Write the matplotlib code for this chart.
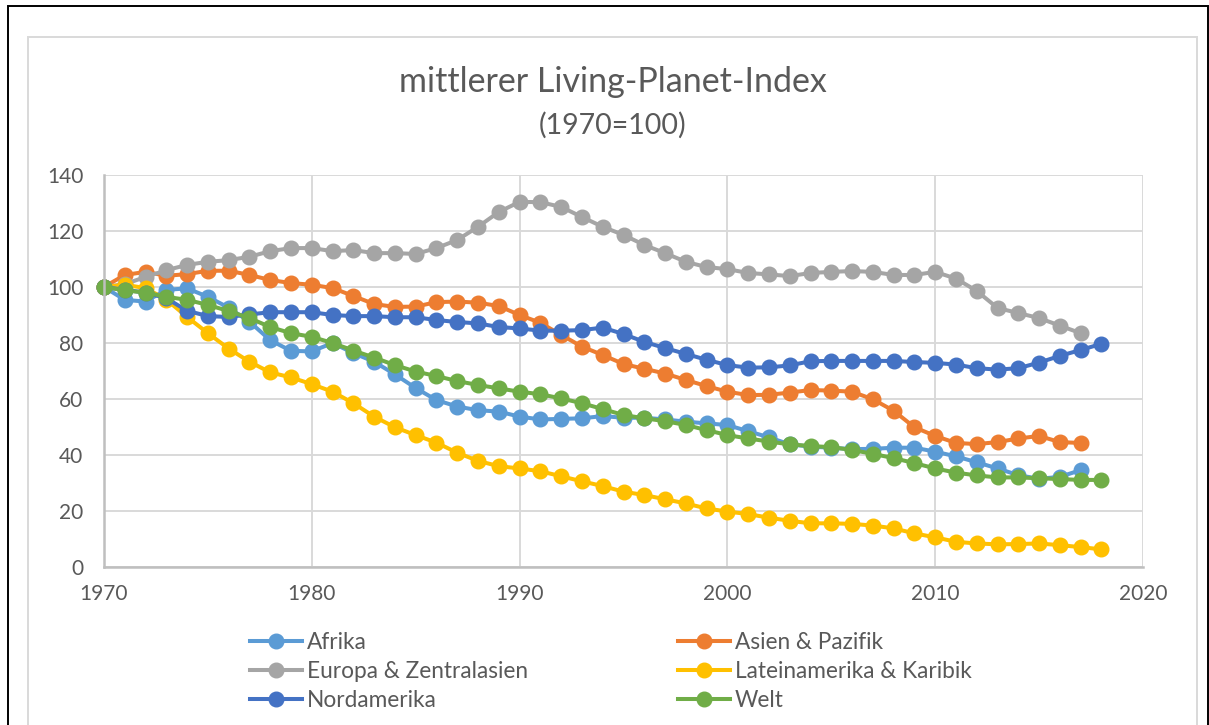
"""Mittlerer Living-Planet-Index nach Region, 1970 = 100."""

import matplotlib.pyplot as plt
from matplotlib.lines import Line2D
from matplotlib.patches import Rectangle

plt.rcParams["font.family"] = ["Lato", "DejaVu Sans"]

YEARS = list(range(1970, 2019))

afrika = [100, 95.4, 94.8, 99, 99.5, 96.5, 92.6, 87.6, 81, 77.2,
          77, 80, 76.4, 73.3, 68.8, 63.9, 59.6, 57.3, 56, 55.5,
          53.7, 52.7, 52.9, 53.1, 53.9, 53.3, 53.3, 52.7, 51.9, 51.3,
          50.7, 48.5, 46.3, 43.8, 43, 42.6, 42.1, 42.2, 42.6, 42.6,
          41.2, 39.5, 37.4, 35.2, 32.8, 31.5, 32.2, 34.6]
asien = [100, 104.3, 105.4, 104, 104.6, 105.8, 105.8, 104.3, 102.5, 101.4,
         100.8, 99.6, 96.8, 93.9, 92.9, 93, 94.6, 94.8, 94.4, 93.2,
         90, 87.2, 82.9, 78.7, 75.7, 72.5, 70.8, 69.1, 66.8, 64.6,
         62.6, 61.4, 61.5, 62.3, 63.2, 63, 62.6, 59.9, 55.8, 49.9,
         46.8, 44.3, 43.9, 44.6, 45.9, 46.8, 44.6, 44.3]
europa = [100, 101, 103.6, 106, 107.9, 109, 109.6, 110.8, 112.8, 113.9,
          113.9, 112.8, 113.2, 112.1, 112.1, 111.8, 113.9, 116.8, 121.5, 126.8,
          130.4, 130.3, 128.6, 125, 121.5, 118.6, 115, 112.1, 109, 107.1,
          106.4, 105, 104.5, 103.9, 105, 105.4, 105.7, 105.4, 104.3, 104.3,
          105.4, 103, 98.6, 92.5, 90.7, 88.9, 86.2, 83.5]
lateinamerika = [100, 100.8, 99.6, 95.5, 89.3, 83.5, 78, 73.3, 69.5, 67.7,
                 65.3, 62.6, 58.5, 53.7, 49.9, 47.1, 44.4, 40.8, 37.9, 36,
                 35.2, 34.2, 32.4, 30.6, 28.9, 26.9, 25.7, 24.2, 22.7, 20.9,
                 19.8, 18.9, 17.6, 16.5, 15.6, 15.6, 15.4, 14.8, 13.8, 12,
                 10.6, 9, 8.4, 8.1, 8.2, 8.4, 7.8, 7.1, 6.3]
nordamerika = [100, 99, 98, 96, 91.5, 89.6, 89.3, 90.2, 91, 91,
               91, 90, 89.6, 89.6, 89.2, 89.2, 88.2, 87.5, 87, 85.7,
               85.2, 84.4, 84.4, 84.6, 85.5, 83.2, 80.4, 78.2, 76.1, 74,
               72.1, 71.2, 71.3, 72, 73.5, 73.6, 73.6, 73.6, 73.6, 73.2,
               72.9, 72.3, 71, 70.5, 71, 73, 75.4, 77.5, 79.7]
welt = [100, 98.8, 98, 96.5, 95.4, 93.6, 91.4, 88.9, 85.7, 83.5,
        82.2, 80, 77.3, 74.8, 72.1, 69.8, 68.2, 66.4, 65, 63.8,
        62.6, 61.7, 60.2, 58.5, 56.4, 54.3, 53.1, 52.1, 50.7, 48.9,
        47.1, 45.9, 44.8, 43.8, 43.2, 42.8, 41.8, 40.4, 38.9, 37.1,
        35.2, 33.7, 32.7, 32, 32, 31.7, 31.4, 31.1, 31.1]

SERIES = [
    ("Afrika", afrika, "#5B9BD5"),
    ("Asien & Pazifik", asien, "#ED7D31"),
    ("Europa & Zentralasien", europa, "#A5A5A5"),
    ("Lateinamerika & Karibik", lateinamerika, "#FFC000"),
    ("Nordamerika", nordamerika, "#4472C4"),
    ("Welt", welt, "#70AD47"),
]

TEXT = "#595959"
GRID = "#D9D9D9"

W, H = 1209, 725
fig = plt.figure(figsize=(W / 100, H / 100), dpi=100)

# frames around the chart (outer black, inner light gray)
fig.add_artist(Rectangle((8 / W, -0.1), (W - 9) / W, 1.1 - 6 / H,
                         transform=fig.transFigure, fill=False,
                         edgecolor="black", lw=1.4))
fig.add_artist(Rectangle((28 / W, -0.1), 1169 / W, 1.1 - 37 / H,
                         transform=fig.transFigure, fill=False,
                         edgecolor=GRID, lw=1.4))

x0, x1, y0, y1 = 104, 1143, 175, 567
ax = fig.add_axes([x0 / W, 1 - y1 / H, (x1 - x0) / W, (y1 - y0) / H])

for name, vals, col in SERIES:
    ax.plot(YEARS[:len(vals)], vals, color=col, lw=2.9, marker="o",
            ms=10.5, label=name, solid_capstyle="round", clip_on=False)

ax.set_xlim(1970, 2020)
ax.set_ylim(0, 140)
ax.set_xticks(range(1970, 2021, 10))
ax.set_yticks(range(0, 141, 20))
ax.grid(True, color=GRID, lw=1.4)
ax.set_axisbelow(True)
for s in ("top", "right"):
    ax.spines[s].set_visible(False)
for s in ("left", "bottom"):
    ax.spines[s].set_color("#BFBFBF")
    ax.spines[s].set_linewidth(1.8)
ax.tick_params(length=0, labelsize=15, labelcolor=TEXT)
ax.tick_params(axis="y", pad=15)
ax.tick_params(axis="x", pad=12)

fig.text(613 / W, 1 - 82 / H, "mittlerer Living-Planet-Index", ha="center",
         va="center", fontsize=24.5, color=TEXT)
fig.text(613 / W, 1 - 125 / H, "(1970=100)", ha="center", va="center",
         fontsize=20.5, color=TEXT)

def legend_col(items, left):
    handles = [Line2D([], [], color=c, lw=2.9, marker="o", ms=10.5)
               for _, _, c in items]
    leg = fig.legend(handles, [n for n, _, _ in items], loc="upper left",
                     bbox_to_anchor=(left / W, 1 - 632 / H), frameon=False,
                     fontsize=16.3, labelcolor=TEXT, handlelength=2.3,
                     handletextpad=0.2, labelspacing=0.36, borderpad=0,
                     borderaxespad=0)
    return leg

legend_col([SERIES[0], SERIES[2], SERIES[4]], 250)
legend_col([SERIES[1], SERIES[3], SERIES[5]], 678)

fig.savefig("out.png", dpi=100)
